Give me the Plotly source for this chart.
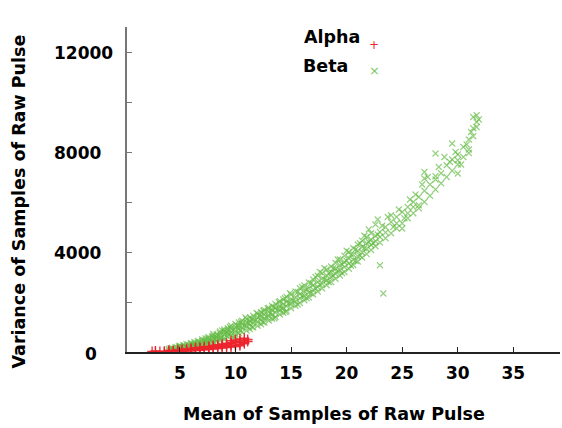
import plotly.graph_objects as go

# ---- data ----
beta_x = [
    4.0, 4.0, 4.3, 4.3, 4.6, 4.6, 4.6, 5.0, 5.0, 5.0, 5.3, 5.3, 5.3, 5.6, 5.6, 5.6,
    6.0, 6.0, 6.0, 6.0, 6.3, 6.3, 6.3, 6.6, 6.6, 6.6, 6.6, 7.0, 7.0, 7.0, 7.0,
    7.3, 7.3, 7.3, 7.3, 7.6, 7.6, 7.6, 7.6, 8.0, 8.0, 8.0, 8.0, 8.0,
    8.3, 8.3, 8.3, 8.3, 8.6, 8.6, 8.6, 8.6, 8.6, 9.0, 9.0, 9.0, 9.0, 9.0,
    9.3, 9.3, 9.3, 9.3, 9.6, 9.6, 9.6, 9.6, 10.0, 10.0, 10.0, 10.0, 10.0,
    10.3, 10.3, 10.3, 10.3, 10.6, 10.6, 10.6, 10.6, 11.0, 11.0, 11.0, 11.0,
    11.3, 11.3, 11.3, 11.3, 11.6, 11.6, 11.6, 11.6, 12.0, 12.0, 12.0, 12.0,
    12.3, 12.3, 12.3, 12.3, 12.6, 12.6, 12.6, 12.6, 13.0, 13.0, 13.0, 13.0,
    13.3, 13.3, 13.3, 13.3, 13.6, 13.6, 13.6, 13.6, 14.0, 14.0, 14.0, 14.0,
    14.3, 14.3, 14.3, 14.3, 14.6, 14.6, 14.6, 14.6, 15.0, 15.0, 15.0, 15.0,
    15.4, 15.4, 15.4, 15.4, 15.8, 15.8, 15.8, 15.8, 16.2, 16.2, 16.2, 16.2,
    16.6, 16.6, 16.6, 16.6, 17.0, 17.0, 17.0, 17.0, 17.4, 17.4, 17.4, 17.4,
    17.8, 17.8, 17.8, 17.8, 18.2, 18.2, 18.2, 18.2, 18.6, 18.6, 18.6, 18.6,
    19.0, 19.0, 19.0, 19.0, 19.4, 19.4, 19.4, 19.4, 19.8, 19.8, 19.8, 19.8,
    20.2, 20.2, 20.2, 20.2, 20.6, 20.6, 20.6, 20.6, 21.0, 21.0, 21.0, 21.0,
    21.4, 21.4, 21.4, 21.4, 21.8, 21.8, 21.8, 21.8, 22.2, 22.2, 22.2, 22.2,
    22.6, 22.6, 22.6, 22.6, 23.0, 23.0, 23.0, 23.0, 23.3,
    23.5, 23.5, 23.5, 24.0, 24.0, 24.0, 24.5, 24.5, 24.5, 25.0, 25.0, 25.0,
    25.5, 25.5, 25.5, 26.0, 26.0, 26.0, 26.5, 26.5, 26.5,
    27.0, 27.0, 27.0, 27.0, 27.5, 27.5, 28.0, 28.0, 28.0, 28.0, 28.5, 28.5,
    29.0, 29.0, 29.5, 29.5, 29.5, 30.0, 30.0, 30.0, 30.0, 30.5, 30.5,
    31.0, 31.0, 31.0, 31.4, 31.4, 31.4, 31.7, 31.7, 31.7,
    # in-between readings
    4.15, 4.45, 4.8, 4.9, 5.15, 5.45, 5.75, 5.9, 6.15, 6.45, 6.75, 6.85, 7.15, 7.45,
    7.5, 7.8, 7.9, 8.15, 8.45, 8.75, 8.8, 9.15, 9.45, 9.5, 9.8, 9.85, 10.15, 10.45,
    10.5, 10.8, 10.9, 11.15, 11.45, 11.5, 11.8, 11.9, 12.15, 12.45, 12.5, 12.8, 12.9,
    13.15, 13.45, 13.5, 13.8, 13.9, 14.15, 14.45, 14.5, 14.8, 14.9, 15.2, 15.6, 15.6,
    16.0, 16.0, 16.4, 16.4, 16.8, 16.8, 17.2, 17.2, 17.6, 17.6, 18.0, 18.0, 18.4, 18.4,
    18.8, 18.8, 19.2, 19.2, 19.6, 19.6, 20.0, 20.0, 20.4, 20.4, 20.8, 20.8, 21.2, 21.2,
    21.6, 21.6, 22.0, 22.0, 22.4, 22.8, 22.8, 23.2, 23.7, 24.2, 24.7, 25.2, 25.7,
    26.2, 26.8, 27.3, 28.3, 28.8, 29.3, 29.8, 30.3, 30.8, 31.2, 31.9,
]
beta_y = [
    60, 120, 90, 170, 110, 200, 60, 130, 250, 190, 170, 280, 100, 200, 320, 150,
    230, 360, 180, 290, 260, 400, 330, 290, 440, 220, 370, 330, 500, 420, 260,
    360, 540, 450, 300, 400, 590, 500, 340, 440, 650, 550, 380, 720,
    480, 700, 600, 420, 520, 760, 650, 460, 820, 570, 820, 700, 500, 900,
    610, 870, 750, 950, 660, 930, 800, 1050, 710, 990, 860, 1120, 620,
    760, 1050, 920, 1180, 800, 1110, 970, 1250, 860, 1180, 1030, 1320,
    920, 1240, 1090, 1380, 980, 1300, 1150, 1450, 1050, 1380, 1220, 1530,
    1110, 1440, 1280, 1600, 1180, 1510, 1350, 1680, 1260, 1600, 1430, 1760,
    1330, 1670, 1500, 1840, 1400, 1750, 1580, 1920, 1500, 1850, 1680, 2030,
    1570, 1920, 1750, 2100, 1640, 2000, 1830, 2200, 1750, 2100, 1930, 2300,
    1850, 2200, 2030, 2420, 1960, 2320, 2140, 2550, 2070, 2430, 2250, 2660,
    2180, 2550, 2370, 2780, 2300, 2680, 2490, 2900, 2420, 2800, 2600, 3050,
    2540, 2930, 2730, 3150, 2670, 3060, 2870, 3300, 2800, 3200, 3000, 3420,
    2930, 3330, 3130, 3560, 3060, 3470, 3270, 3700, 3200, 3600, 3400, 3850,
    3330, 3750, 3540, 4000, 3480, 3900, 3680, 4150, 3620, 4050, 3830, 4300,
    3780, 4200, 3980, 4450, 3920, 4350, 4130, 4600, 4080, 4500, 4280, 4750,
    4230, 4650, 4430, 5100, 4380, 4800, 3470, 4600, 2340,
    4550, 5000, 4780, 4750, 5200, 5470, 4950, 5400, 5150, 5150, 5600, 4940,
    5350, 5800, 5550, 5550, 6000, 5800, 5750, 6200, 5870,
    6000, 6450, 7200, 6940, 6250, 6700, 6500, 6900, 7940, 7030, 6750, 7150,
    7000, 7470, 7250, 7700, 8340, 7500, 7900, 7670, 7140, 7800, 8200,
    8100, 8500, 7960, 8630, 8950, 9400, 9200, 9470, 9000,
    # in-between readings
    140, 80, 160, 230, 210, 240, 280, 130, 310, 200, 400, 320, 470, 380,
    560, 450, 620, 520, 660, 580, 860, 780, 700, 1000, 880, 600, 1050, 850,
    1200, 1050, 1380, 1150, 1320, 1000, 1250, 1560, 1450, 1200, 1650, 1400, 1750,
    1550, 1800, 1350, 1700, 2000, 1750, 2150, 1600, 1950, 2350, 2050, 2400, 1900,
    2250, 2600, 2150, 2500, 2750, 2350, 2550, 3000, 2700, 3200, 2900, 3350, 2800, 3150,
    3350, 3050, 3250, 3700, 3500, 3150, 3650, 4050, 3450, 3900, 4100, 3650, 4350, 3850,
    4150, 4650, 4400, 4900, 4350, 4700, 5300, 5050, 5400, 5000, 5700, 5350, 6100,
    6300, 6700, 7000, 7400, 7800, 7600, 8000, 7500, 8300, 8800, 9300,
]

alpha_x = [
    2.5, 2.8, 2.8, 3.2, 3.6, 3.6, 4.0, 4.0, 4.0, 4.4, 4.4, 4.8, 4.8, 4.8,
    5.2, 5.2, 5.2, 5.6, 5.6, 5.6, 6.0, 6.0, 6.0, 6.0, 6.4, 6.4, 6.4, 6.4,
    6.8, 6.8, 6.8, 6.8, 7.2, 7.2, 7.2, 7.2, 7.6, 7.6, 7.6, 7.6,
    8.0, 8.0, 8.0, 8.0, 8.4, 8.4, 8.4, 8.4, 8.8, 8.8, 8.8, 8.8,
    9.2, 9.2, 9.2, 9.2, 9.6, 9.6, 9.6, 9.6, 9.6, 10.0, 10.0, 10.0, 10.0, 10.0,
    10.4, 10.4, 10.4, 10.4, 10.4, 10.8, 10.8, 10.8, 10.8, 11.1, 11.1,
]
alpha_y = [
    20, 10, 40, 20, 30, 0, 40, 10, 70, 50, 20, 60, 90, 20,
    70, 110, 30, 80, 130, 40, 90, 150, 50, 120, 100, 170, 60, 140,
    120, 190, 70, 160, 130, 210, 90, 180, 150, 230, 100, 200,
    170, 260, 120, 220, 190, 290, 140, 250, 210, 320, 160, 270,
    230, 350, 180, 300, 260, 380, 200, 330, 450, 280, 410, 220, 360, 480,
    300, 440, 250, 390, 520, 330, 470, 380, 550, 420, 500,
]

x_ticks = [5, 10, 15, 20, 25, 30, 35]
y_ticks = [0, 2000, 4000, 6000, 8000, 10000, 12000]
y_labels = ["0", "4000", "8000", "12000"]
y_label_vals = [0, 4000, 8000, 12000]

FONT = "DejaVu Sans"
TICK_SIZE = 17
TITLE_SIZE = 17.5

fig = go.Figure()
fig.add_trace(go.Scatter(
    x=beta_x, y=beta_y, mode="markers", name="Beta",
    marker=dict(symbol="x-thin", size=6, line=dict(width=1.1, color="rgba(100,186,68,0.7)")),
))
fig.add_trace(go.Scatter(
    x=alpha_x, y=alpha_y, mode="markers", name="Alpha",
    marker=dict(symbol="cross-thin", size=7, line=dict(width=1.3, color="rgba(236,36,44,0.95)")),
))

fig.update_layout(
    width=562, height=428,
    margin=dict(l=127, r=2, t=27, b=76),
    paper_bgcolor="white", plot_bgcolor="white",
    showlegend=False,
    font=dict(family=FONT, size=TICK_SIZE, color="black"),
)
fig.update_xaxes(
    range=[0.24, 39.2], tickvals=x_ticks, ticks="inside", ticklen=5,
    tickcolor="#222", showline=True, linecolor="#222", linewidth=1.5,
    showgrid=False, zeroline=False,
    tickfont=dict(family=FONT, size=TICK_SIZE, color="black", weight="bold"),
    ticklabelstandoff=5,
)
fig.update_yaxes(
    range=[0, 13000], tickvals=y_ticks, ticktext=[""] * len(y_ticks),
    ticks="inside", ticklen=5, tickcolor="#777", showline=True,
    linecolor="#777", linewidth=1.5, showgrid=False, zeroline=False,
)

# y tick labels (left aligned as in the reference)
for lab, v in zip(y_labels, y_label_vals):
    if lab == "0":
        fig.add_annotation(x=0, xref="paper", y=v, yref="y", text="<b>0</b>",
                           xanchor="center", xshift=-36, yshift=-2, showarrow=False,
                           font=dict(family=FONT, size=TICK_SIZE, color="black"))
    else:
        fig.add_annotation(x=0, xref="paper", y=v, yref="y", text=f"<b>{lab}</b>",
                           xanchor="left", xshift=-75, yshift=-1, showarrow=False,
                           font=dict(family=FONT, size=TICK_SIZE, color="black"))

# axis titles
fig.add_annotation(x=0, xref="paper", y=0.5, yref="paper", text="<b>Variance of Samples of Raw Pulse</b>",
                   textangle=-90, xanchor="center", yanchor="middle", xshift=-109, yshift=-12,
                   showarrow=False, font=dict(family=FONT, size=TITLE_SIZE, color="black"))
fig.add_annotation(x=0.5, xref="paper", y=0, yref="paper", text="<b>Mean of Samples of Raw Pulse</b>",
                   xanchor="center", yanchor="middle", xshift=-10, yshift=-62,
                   showarrow=False, font=dict(family=FONT, size=TITLE_SIZE, color="black"))

# legend
fig.add_annotation(x=0, xref="paper", y=1, yref="paper", text="<b>Alpha</b>",
                   xanchor="left", yanchor="middle", xshift=302 - 127, yshift=27 - 37,
                   showarrow=False, font=dict(family=FONT, size=TITLE_SIZE, color="black"))
fig.add_annotation(x=0, xref="paper", y=1, yref="paper", text="<b>Beta</b>",
                   xanchor="left", yanchor="middle", xshift=301 - 127, yshift=27 - 66,
                   showarrow=False, font=dict(family=FONT, size=TITLE_SIZE, color="black"))
fig.add_annotation(x=0, xref="paper", y=1, yref="paper", text="+",
                   xanchor="center", yanchor="middle", xshift=374 - 127, yshift=27 - 45,
                   showarrow=False, font=dict(family=FONT, size=12, color="#ec242c"))
fig.add_annotation(x=0, xref="paper", y=1, yref="paper", text="×",
                   xanchor="center", yanchor="middle", xshift=374 - 127, yshift=27 - 70,
                   showarrow=False, font=dict(family=FONT, size=13, color="#7cc860"))

fig.write_html("out.html")
